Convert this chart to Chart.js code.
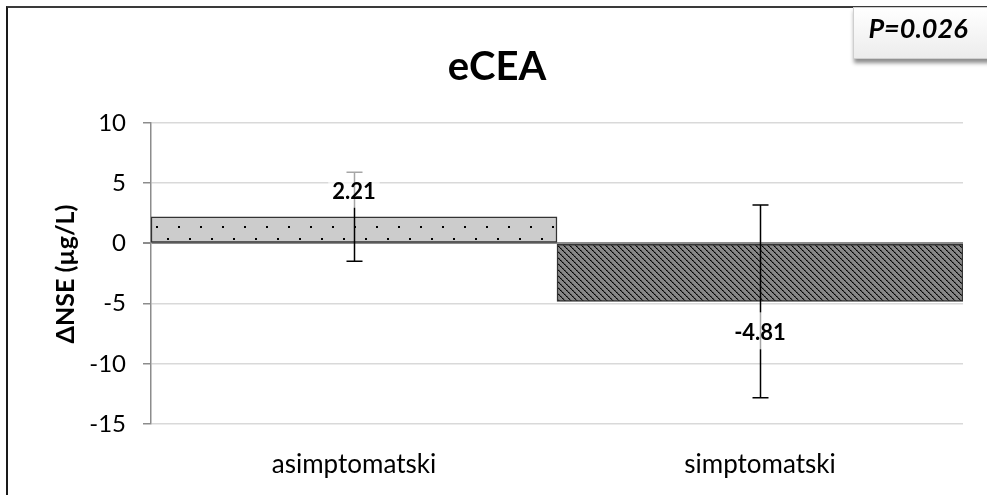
<!DOCTYPE html>
<html>
<head>
<meta charset="utf-8">
<script src="https://cdn.jsdelivr.net/npm/chart.js@4"></script>
<style>
  html, body { margin: 0; padding: 0; background: #fff; }
  #wrap { position: relative; width: 987px; height: 495px; overflow: hidden; }
  #frame { position: absolute; left: 6px; top: 6px; width: 990px; height: 500px;
           border-left: 2px solid #1a1a1a; border-top: 2px solid #3a3a3a; pointer-events: none; }
  canvas { position: absolute; left: 0; top: 0; }
  #pbox { position: absolute; left: 853px; top: 7px; width: 150px; height: 52px;
          background: linear-gradient(#ffffff, #ececec); border: 1px solid #cfcfcf;
          box-shadow: 1px 4px 4px rgba(0,0,0,0.45); box-sizing: border-box; }
  #ptext { position: absolute; left: 858px; top: 11px; width: 120px; text-align: center;
           font-family: Lato, sans-serif; font-weight: bold; font-style: italic; font-size: 27px; color: #000; }
</style>
</head>
<body>
<div id="wrap">
  <canvas id="c" width="987" height="495"></canvas>
  <div id="frame"></div>
  <div id="pbox"></div>
  <div id="ptext">P=0.026</div>
</div>
<script>
const categories = ['asimptomatski', 'simptomatski'];
const values = [2.21, -4.81];
const errors = [3.7, 8.0];
const valueLabels = ['2.21', '-4.81'];
const yTicks = [10, 5, 0, -5, -10, -15];
const chartTitle = 'eCEA';
const yTitle = 'ΔNSE (µg/L)';

function dotPattern() {
  const c = document.createElement('canvas');
  c.width = 22; c.height = 23;
  const x = c.getContext('2d');
  x.fillStyle = '#cccccc'; x.fillRect(0, 0, 22, 23);
  x.fillStyle = '#000';
  x.fillRect(2, 19, 2, 2);
  x.fillRect(13, 8, 2, 2);
  return x.createPattern(c, 'repeat');
}
function hatchPattern() {
  const c = document.createElement('canvas');
  c.width = 6; c.height = 6;
  const x = c.getContext('2d');
  x.fillStyle = '#878787'; x.fillRect(0, 0, 6, 6);
  for (let i = 0; i < 6; i++) {
    x.fillStyle = (i % 2 === 0) ? '#000' : '#1a1a1a';
    x.fillRect(i, i, 1, 1);
    x.fillStyle = (i % 2 === 0) ? '#444' : '#666';
    x.fillRect((i + 1) % 6, i, 1, 1);
  }
  return x.createPattern(c, 'repeat');
}

const fills = [dotPattern(), hatchPattern()];

const overlay = {
  id: 'overlay',
  afterDatasetsDraw(chart) {
    const ctx = chart.ctx;
    const meta = chart.getDatasetMeta(0);
    const ys = chart.scales.y;
    ctx.save();
    // error bars
    meta.data.forEach((bar, i) => {
      const x = Math.round(bar.x) + 0.5;
      const top = ys.getPixelForValue(values[i] + errors[i]);
      const bot = ys.getPixelForValue(values[i] - errors[i]);
      ctx.strokeStyle = '#000';
      ctx.lineWidth = 1.5;
      ctx.beginPath();
      ctx.moveTo(x, top); ctx.lineTo(x, bot);
      ctx.moveTo(x - 8, top); ctx.lineTo(x + 8, top);
      ctx.moveTo(x - 8, bot); ctx.lineTo(x + 8, bot);
      ctx.stroke();
    });
    // value labels
    ctx.font = 'bold 22px Lato, sans-serif';
    ctx.textAlign = 'center';
    ctx.textBaseline = 'middle';
    meta.data.forEach((bar, i) => {
      const pos = values[i] >= 0;
      const yEdge = ys.getPixelForValue(values[i]);
      const cy = pos ? yEdge - 25 : yEdge + 32;
      const w = ctx.measureText(valueLabels[i]).width + 8;
      ctx.fillStyle = 'rgba(255,255,255,0.65)';
      ctx.fillRect(bar.x - w / 2, cy - 21, w, 37);
      ctx.fillStyle = '#000';
      ctx.fillText(valueLabels[i], bar.x, cy);
    });
    // title
    ctx.font = 'bold 40px Lato, sans-serif';
    ctx.fillText(chartTitle, 497, 67);
    // y-axis title
    ctx.translate(66, 274);
    ctx.rotate(-Math.PI / 2);
    ctx.font = 'bold 25px Lato, sans-serif';
    ctx.fillText(yTitle, 0, 0);
    ctx.restore();
  }
};

new Chart(document.getElementById('c'), {
  type: 'bar',
  data: {
    labels: categories,
    datasets: [{
      data: values,
      backgroundColor: fills,
      borderColor: '#333333',
      borderWidth: 1.5,
      borderSkipped: false,
      barPercentage: 1.0,
      categoryPercentage: 1.0
    }]
  },
  options: {
    responsive: false,
    animation: false,
    devicePixelRatio: 1,
    layout: { padding: { top: 123, right: 24, bottom: 0, left: 0 } },
    plugins: { legend: { display: false }, tooltip: { enabled: false }, title: { display: false } },
    scales: {
      x: {
        grid: { display: false, drawTicks: false },
        border: { display: false },
        ticks: { color: '#000', font: { family: 'Lato, sans-serif', size: 26 }, padding: 25 },
        afterFit(s) { s.height = 71; }
      },
      y: {
        min: -15, max: 10,
        afterBuildTicks(s) { s.ticks = yTicks.map(v => ({ value: v })); },
        afterFit(s) { s.width = 151; },
        grid: {
          color: (c) => c.tick && c.tick.value === 0 ? '#8c8c8c' : '#d9d9d9',
          lineWidth: (c) => c.tick && c.tick.value === 0 ? 2 : 1.5,
          tickColor: '#8c8c8c',
          tickLength: 8
        },
        border: { color: '#8c8c8c', width: 1.5 },
        ticks: { color: '#000', font: { family: 'Lato, sans-serif', size: 24 }, padding: 17 },
        title: { display: false }
      }
    }
  },
  plugins: [overlay]
});
</script>
</body>
</html>
